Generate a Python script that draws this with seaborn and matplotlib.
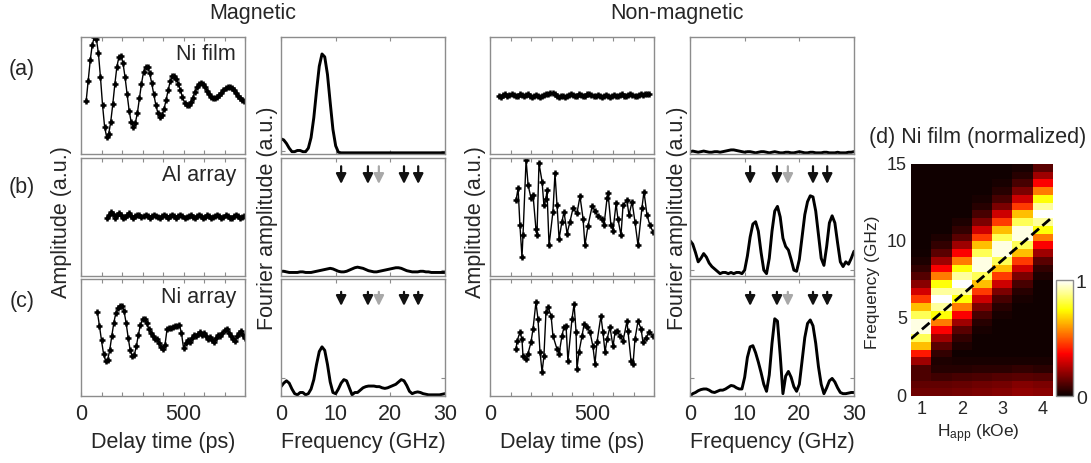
import numpy as np
import pandas as pd
import matplotlib
matplotlib.use("Agg")
import matplotlib.pyplot as plt
import seaborn as sns

sns.set_style("ticks")
plt.rcParams["font.family"] = ["Liberation Sans", "DejaVu Sans"]
plt.rcParams["mathtext.fontset"] = "custom"
plt.rcParams["mathtext.rm"] = "Liberation Sans"
plt.rcParams["mathtext.it"] = "Liberation Sans:italic"

# ---------------- time-domain traces (a.u.) ----------------
t_ni_film = np.arange(25, 800, 10)
v_ni_film = [-0.10, 0.25, 0.60, 0.87, 1.00, 0.97, 0.72, 0.31, -0.16, -0.53,
             -0.71, -0.66, -0.45, -0.15, 0.19, 0.49, 0.66, 0.68, 0.55, 0.31,
             0.02, -0.26, -0.46, -0.53, -0.47, -0.30, -0.05, 0.20, 0.40, 0.49,
             0.48, 0.38, 0.21, 0.02, -0.16, -0.30, -0.36, -0.33, -0.23, -0.08,
             0.09, 0.24, 0.33, 0.34, 0.29, 0.20, 0.09, -0.03, -0.12, -0.17,
             -0.16, -0.11, -0.04, 0.06, 0.14, 0.20, 0.21, 0.19, 0.14, 0.08,
             0.02, -0.03, -0.05, -0.04, -0.02, 0.01, 0.05, 0.09, 0.12, 0.14,
             0.14, 0.12, 0.09, 0.04, 0.00, -0.05, -0.08, -0.10]

t_al_array = np.arange(125, 800, 10)
v_al_array = [-0.02, 0.04, 0.08, 0.05, -0.01, 0.03, 0.07, 0.04, -0.02, 0.00,
              0.04, 0.06, 0.02, -0.02, 0.01, 0.04, 0.03, 0.00, 0.01, 0.03,
              0.02, -0.01, 0.01, 0.03, 0.02, 0.00, -0.01, 0.02, 0.04, 0.01,
              -0.02, 0.01, 0.03, 0.02, -0.01, 0.01, 0.04, 0.02, -0.01, 0.00,
              0.02, 0.03, 0.00, -0.02, 0.01, 0.04, 0.02, -0.01, 0.00, 0.03,
              0.01, -0.02, 0.00, 0.02, 0.04, 0.01, -0.01, 0.00, 0.03, 0.02,
              -0.01, -0.02, 0.01, 0.04, 0.02, -0.01, 0.00, 0.02]

t_ni_array = np.arange(80, 801, 10)
v_ni_array = [0.43, 0.20, -0.05, -0.28, -0.40, -0.38, -0.22, 0.02, 0.25, 0.42,
              0.50, 0.54, 0.54, 0.45, 0.25, 0.00, -0.22, -0.32, -0.30, -0.15,
              0.05, 0.22, 0.31, 0.31, 0.24, 0.15, 0.08, 0.03, -0.02, -0.03,
              -0.10, -0.17, -0.20, -0.12, 0.15, 0.17, 0.16, 0.18, 0.19, 0.20,
              0.21, 0.08, -0.18, -0.10, -0.04, -0.07, 0.00, 0.04, 0.02, 0.06,
              0.09, 0.05, 0.07, 0.02, -0.03, 0.01, -0.05, -0.08, 0.00, 0.04,
              0.02, 0.08, 0.12, 0.15, 0.08, 0.03, -0.03, -0.06, 0.02, 0.08,
              0.11, 0.04, 0.00]

t_nm_film = np.arange(45, 776, 10)
v_nm_film = [0.00, -0.02, 0.01, 0.02, 0.00, 0.01, 0.03, 0.01, -0.01, 0.00,
             0.02, 0.01, -0.01, 0.01, 0.02, 0.00, -0.02, -0.01, 0.01, 0.00,
             -0.02, -0.01, 0.01, 0.02, 0.03, 0.05, 0.04, 0.02, 0.00, -0.02,
             -0.01, 0.00, -0.02, -0.01, 0.01, 0.02, 0.01, -0.01, 0.00, 0.02,
             0.01, -0.01, 0.00, 0.02, 0.03, 0.01, -0.01, 0.00, 0.01, -0.01,
             -0.02, 0.00, 0.01, -0.01, -0.02, 0.00, 0.01, 0.00, -0.01, 0.01,
             0.02, 0.00, -0.01, 0.01, 0.02, 0.01, -0.01, 0.00, 0.01, 0.02,
             0.01, 0.02, 0.03, 0.02]

t_nm_al = [127, 137, 146, 156, 161, 176, 186, 200, 210, 224, 229, 239, 254, 263,
           273, 278, 288, 307, 317, 327, 337, 351, 361, 376, 390, 405, 424, 439,
           454, 463, 478, 498, 512, 527, 546, 556, 571, 576, 590, 600, 615, 624,
           639, 649, 668, 678, 693, 707, 722, 741, 751, 766, 780, 795]
v_nm_al = [0.28, 0.49, -0.14, -0.68, -0.31, 0.97, 0.54, 0.32, 0.37, -0.20,
           -0.31, 0.91, 0.60, 0.20, 0.31, 0.45, -0.48, 0.09, 0.74, 0.20,
           -0.37, -0.08, 0.09, -0.28, -0.08, 0.15, 0.06, 0.35, -0.03, -0.48,
           -0.15, 0.18, 0.11, 0.01, -0.03, -0.14, 0.32, 0.40, -0.14, -0.23,
           0.23, -0.03, -0.31, 0.20, 0.28, 0.03, 0.26, -0.08, -0.48, 0.15,
           0.43, 0.03, -0.14, -0.25]

t_nm_ni = [127, 132, 146, 156, 161, 176, 185, 200, 210, 224, 234, 244, 254, 263,
           273, 283, 298, 307, 327, 337, 351, 361, 371, 380, 400, 410, 420, 424,
           434, 449, 459, 473, 488, 502, 512, 522, 541, 551, 561, 571, 585, 600,
           610, 620, 634, 649, 668, 673, 688, 698, 707, 722, 737, 746, 761, 776, 795]
v_nm_ni = [-0.20, -0.06, 0.09, -0.03, -0.32, -0.37, -0.28, -0.08, 0.15, 0.60,
           0.32, -0.25, -0.59, -0.32, 0.43, 0.52, 0.37, 0.03, -0.20, -0.28,
           0.03, 0.18, 0.20, -0.40, 0.32, 0.57, 0.09, -0.54, -0.25, 0.03,
           0.23, 0.18, 0.09, -0.15, -0.45, -0.08, 0.37, 0.09, -0.25, -0.03,
           0.18, -0.15, 0.09, 0.11, 0.03, -0.06, 0.28, 0.11, -0.40, -0.45,
           -0.03, 0.28, 0.15, -0.08, 0.00, 0.09, 0.03]

# ---------------- Fourier spectra (a.u.), 0-30 GHz in 0.5 GHz steps ----------------
freq = np.arange(0, 30.01, 0.5)
fft_ni_film = [0.13, 0.12, 0.09, 0.05, 0.02, 0.02, 0.03, 0.03, 0.02, 0.02,
               0.05, 0.14, 0.31, 0.54, 0.75, 0.855, 0.83, 0.68, 0.44, 0.21,
               0.07, 0.015, 0.01, 0.01, 0.01, 0.01, 0.01, 0.01, 0.01, 0.01,
               0.01, 0.01, 0.01, 0.01, 0.01, 0.01, 0.01, 0.01, 0.01, 0.01,
               0.01, 0.01, 0.01, 0.01, 0.01, 0.01, 0.01, 0.01, 0.01, 0.01,
               0.01, 0.01, 0.01, 0.01, 0.01, 0.01, 0.01, 0.01, 0.01, 0.01,
               0.01]
fft_al_array = [0.04, 0.04, 0.035, 0.03, 0.03, 0.03, 0.03, 0.035, 0.035, 0.03,
                0.03, 0.03, 0.035, 0.04, 0.045, 0.05, 0.055, 0.06, 0.065, 0.06,
                0.05, 0.04, 0.035, 0.035, 0.04, 0.05, 0.06, 0.07, 0.075, 0.07,
                0.065, 0.055, 0.045, 0.04, 0.035, 0.035, 0.04, 0.045, 0.05, 0.055,
                0.06, 0.065, 0.07, 0.07, 0.065, 0.055, 0.045, 0.04, 0.035, 0.035,
                0.035, 0.04, 0.04, 0.035, 0.035, 0.03, 0.03, 0.03, 0.03, 0.03,
                0.03]
fft_ni_array = [0.08, 0.11, 0.13, 0.11, 0.06, 0.02, 0.01, 0.03, 0.03, 0.01,
                0.02, 0.06, 0.14, 0.27, 0.38, 0.42, 0.39, 0.27, 0.12, 0.03,
                0.02, 0.06, 0.11, 0.14, 0.13, 0.07, 0.01, 0.03, 0.03, 0.05,
                0.07, 0.08, 0.085, 0.085, 0.085, 0.08, 0.08, 0.07, 0.065, 0.07,
                0.08, 0.09, 0.10, 0.12, 0.14, 0.13, 0.09, 0.04, 0.02, 0.03,
                0.035, 0.03, 0.02, 0.015, 0.01, 0.01, 0.01, 0.01, 0.01, 0.015,
                0.02]
fft_nm_film = [0.02, 0.025, 0.02, 0.015, 0.02, 0.025, 0.02, 0.015, 0.015, 0.02,
               0.02, 0.015, 0.02, 0.025, 0.03, 0.035, 0.035, 0.03, 0.025, 0.02,
               0.015, 0.02, 0.02, 0.015, 0.01, 0.015, 0.02, 0.02, 0.015, 0.01,
               0.015, 0.02, 0.015, 0.01, 0.01, 0.015, 0.015, 0.01, 0.01, 0.015,
               0.02, 0.015, 0.01, 0.01, 0.015, 0.015, 0.01, 0.01, 0.01, 0.015,
               0.015, 0.01, 0.01, 0.01, 0.015, 0.01, 0.01, 0.01, 0.015, 0.015,
               0.02]
fft_nm_al = [0.30, 0.27, 0.20, 0.12, 0.15, 0.19, 0.16, 0.11, 0.08, 0.06,
             0.04, 0.02, 0.03, 0.03, 0.02, 0.03, 0.02, 0.03, 0.03, 0.02,
             0.05, 0.17, 0.33, 0.44, 0.46, 0.38, 0.20, 0.05, 0.02, 0.15,
             0.38, 0.55, 0.59, 0.50, 0.32, 0.25, 0.22, 0.14, 0.05, 0.04,
             0.14, 0.33, 0.52, 0.63, 0.68, 0.67, 0.55, 0.35, 0.15, 0.09,
             0.25, 0.45, 0.51, 0.45, 0.28, 0.12, 0.08, 0.12, 0.10, 0.15,
             0.21]
fft_nm_ni = [0.00, 0.02, 0.03, 0.045, 0.055, 0.06, 0.06, 0.05, 0.035, 0.03,
             0.04, 0.05, 0.05, 0.06, 0.075, 0.09, 0.085, 0.07, 0.06, 0.06,
             0.16, 0.33, 0.42, 0.43, 0.37, 0.29, 0.20, 0.10, 0.04, 0.18,
             0.45, 0.66, 0.64, 0.35, 0.02, 0.17, 0.21, 0.16, 0.08, 0.04,
             0.10, 0.30, 0.50, 0.62, 0.65, 0.60, 0.45, 0.25, 0.10, 0.02,
             0.07, 0.13, 0.15, 0.12, 0.07, 0.03, 0.02, 0.02, 0.025, 0.03,
             0.03]

# calculated mode frequencies marked by arrows (GHz); the grey one is separate
arrow_freqs = [11.0, 15.9, 17.9, 22.5, 25.1]
arrow_colors = ["#111111", "#111111", "#a8a8a8", "#111111", "#111111"]

# ---------------- field dependence of the Ni film spectrum ----------------
h_fields = [1.0, 1.5, 2.0, 2.5, 3.0, 3.5, 4.0]          # kOe
freq_bins = np.arange(0.25, 15.0, 0.5)                    # GHz (bin centres)
heat_cols = [
    [0.15, 0.13, 0.10, 0.10, 0.22, 0.40, 0.65, 0.83, 0.97, 0.97,
     0.83, 0.65, 0.45, 0.30, 0.19, 0.11, 0.06, 0.03, 0.015, 0.01,
     0.01, 0.01, 0.01, 0.01, 0.01, 0.01, 0.01, 0.01, 0.01, 0.01],
    [0.15, 0.13, 0.08, 0.04, 0.03, 0.06, 0.12, 0.22, 0.36, 0.55,
     0.75, 0.90, 1.00, 0.90, 0.75, 0.55, 0.36, 0.22, 0.12, 0.06,
     0.03, 0.01, 0.01, 0.01, 0.01, 0.01, 0.01, 0.01, 0.01, 0.01],
    [0.16, 0.14, 0.09, 0.04, 0.02, 0.01, 0.03, 0.06, 0.12, 0.22,
     0.36, 0.55, 0.75, 0.90, 1.00, 0.90, 0.75, 0.55, 0.36, 0.22,
     0.12, 0.06, 0.03, 0.01, 0.01, 0.01, 0.01, 0.01, 0.01, 0.01],
    [0.17, 0.15, 0.10, 0.05, 0.02, 0.01, 0.01, 0.01, 0.02, 0.045,
     0.09, 0.17, 0.29, 0.45, 0.65, 0.83, 0.97, 0.97, 0.83, 0.65,
     0.45, 0.29, 0.17, 0.09, 0.045, 0.02, 0.01, 0.01, 0.01, 0.01],
    [0.18, 0.16, 0.11, 0.05, 0.02, 0.01, 0.01, 0.01, 0.01, 0.01,
     0.02, 0.045, 0.09, 0.17, 0.29, 0.45, 0.65, 0.83, 0.97, 0.97,
     0.83, 0.65, 0.45, 0.29, 0.17, 0.09, 0.045, 0.02, 0.01, 0.01],
    [0.20, 0.18, 0.12, 0.06, 0.02, 0.01, 0.01, 0.01, 0.01, 0.01,
     0.01, 0.01, 0.02, 0.045, 0.09, 0.17, 0.29, 0.45, 0.65, 0.83,
     0.97, 0.97, 0.83, 0.65, 0.45, 0.29, 0.17, 0.09, 0.045, 0.02],
    [0.19, 0.17, 0.11, 0.05, 0.02, 0.01, 0.01, 0.01, 0.01, 0.01,
     0.01, 0.01, 0.01, 0.01, 0.01, 0.03, 0.06, 0.12, 0.22, 0.36,
     0.55, 0.75, 0.90, 1.00, 0.90, 0.75, 0.55, 0.36, 0.22, 0.12],
]
fit_h = [0.75, 4.25]     # kOe
fit_f = [3.7, 11.6]      # GHz

# ---------------- figure ----------------
W, H = 1091, 464
fig = plt.figure(figsize=(W / 100, H / 100), dpi=100)
FS = 15.5
FRAME = "#8c8c8c"


def px_axes(x0, y0, x1, y1):
    return fig.add_axes([x0 / W, 1 - y1 / H, (x1 - x0) / W, (y1 - y0) / H])


def px_text(x, y, s, **kw):
    fig.text(x / W, 1 - y / H, s, **kw)


def frame(ax):
    for s in ax.spines.values():
        s.set_color(FRAME)
        s.set_linewidth(1.0)
    ax.tick_params(direction="in", length=3, width=0.8, color=FRAME,
                   top=True, right=True, labelsize=FS, pad=5)


col_x = [(81, 245), (281, 445), (490, 654), (690, 854)]
row_y = [(38, 155), (159, 277), (280, 397)]

time_data = {0: [(t_ni_film, v_ni_film), (t_al_array, v_al_array), (t_ni_array, v_ni_array)],
             2: [(t_nm_film, v_nm_film), (t_nm_al, v_nm_al), (t_nm_ni, v_nm_ni)]}
fft_data = {1: [fft_ni_film, fft_al_array, fft_ni_array],
            3: [fft_nm_film, fft_nm_al, fft_nm_ni]}
fft_ytick = [0.025, 0.05, 0.155]

for c, (x0, x1) in enumerate(col_x):
    for r, (y0, y1) in enumerate(row_y):
        ax = px_axes(x0, y0, x1, y1)
        frame(ax)
        last = r == 2
        if c in time_data:
            t, v = time_data[c][r]
            sns.lineplot(x=t, y=v, ax=ax, color="black", lw=1.0, marker="+",
                         markersize=5, markeredgewidth=1.8, markeredgecolor="black")
            ax.set_xlim(0, 800)
            ax.set_ylim(-1, 1)
            ax.set_xticks(range(0, 801, 100))
            ax.set_xticklabels(["0", "", "", "", "", "500", "", "", ""])
            ax.set_yticks([])
        else:
            sns.lineplot(x=freq, y=fft_data[c][r], ax=ax, color="black", lw=2.1)
            ax.set_xlim(0, 30)
            ax.set_ylim(0, 1)
            ax.set_xticks([0, 10, 20, 30])
            ax.set_yticks([fft_ytick[r]])
            ax.set_yticklabels([])
            if r > 0:
                top, tip = (0.93, 0.78) if r == 1 else (0.89, 0.77)
                for f, col in zip(arrow_freqs, arrow_colors):
                    ax.annotate("", xy=(f, tip), xytext=(f, top),
                                xycoords=("data", "axes fraction"),
                                textcoords=("data", "axes fraction"),
                                arrowprops=dict(arrowstyle="-|>,head_width=0.3,head_length=0.6",
                                                color=col, lw=1.6, shrinkA=0, shrinkB=0))
        ax.set_xlabel("")
        ax.set_ylabel("")
        ax.tick_params(labelbottom=last)

# sample names inside the magnetic time traces
px_text(236, 55, "Ni film", ha="right", va="center", fontsize=FS)
px_text(236, 176, "Al array", ha="right", va="center", fontsize=FS)
px_text(236, 298, "Ni array", ha="right", va="center", fontsize=FS)

# column headings, row tags and shared axis labels
px_text(253, 14, "Magnetic", ha="center", va="center", fontsize=FS)
px_text(677, 14, "Non-magnetic", ha="center", va="center", fontsize=FS)
for tag, y in zip(["(a)", "(b)", "(c)"], [70, 188, 302]):
    px_text(22, y, tag, ha="center", va="center", fontsize=FS)
px_text(61, 222, "Amplitude (a.u.)", rotation=90, ha="center", va="center", fontsize=FS)
px_text(476, 222, "Amplitude (a.u.)", rotation=90, ha="center", va="center", fontsize=FS)
px_text(267, 218, "Fourier amplitude (a.u.)", rotation=90, ha="center", va="center", fontsize=FS)
px_text(678, 218, "Fourier amplitude (a.u.)", rotation=90, ha="center", va="center", fontsize=FS)
px_text(163, 443, "Delay time (ps)", ha="center", va="center", fontsize=FS)
px_text(572, 443, "Delay time (ps)", ha="center", va="center", fontsize=FS)
px_text(363, 443, "Frequency (GHz)", ha="center", va="center", fontsize=FS)
px_text(772, 443, "Frequency (GHz)", ha="center", va="center", fontsize=FS)

# ---------------- (d) heat map ----------------
axd = px_axes(911, 165, 1053, 397)
cax = px_axes(1056, 281, 1073, 397)
hm = pd.DataFrame(np.array(heat_cols).T, index=freq_bins, columns=h_fields)
sns.heatmap(hm, ax=axd, cmap="hot", vmin=0, vmax=1, cbar_ax=cax,
            cbar_kws={"ticks": [0, 1]})
axd.invert_yaxis()
dh = h_fields[1] - h_fields[0]
df = freq_bins[1] - freq_bins[0]


def h_to_cell(h):
    return (np.asarray(h) - h_fields[0]) / dh + 0.5


def f_to_cell(f):
    return (np.asarray(f) - (freq_bins[0] - df / 2)) / df


axd.plot(h_to_cell(fit_h), f_to_cell(fit_f), color="black", lw=2.0, dashes=(3.6, 1.6))
axd.set_xticks(h_to_cell([1, 2, 3, 4]))
axd.set_xticklabels(["1", "2", "3", "4"], rotation=0)
axd.set_yticks(f_to_cell([0, 5, 10, 15]))
axd.set_yticklabels(["0", "5", "10", "15"], rotation=0)
axd.tick_params(length=0, labelsize=13, pad=3)
axd.set_xlabel("")
axd.set_ylabel("")
cax.tick_params(length=0, labelsize=14, pad=2)
cbar = axd.collections[0].colorbar
cbar.outline.set_edgecolor(FRAME)
cbar.outline.set_linewidth(1.0)

px_text(978, 138, "(d) Ni film (normalized)", ha="center", va="center", fontsize=FS)
px_text(873, 282, "Frequency (GHz)", rotation=90, ha="center", va="center", fontsize=12.5)
px_text(978, 434, r"H$_{\mathrm{app}}$ (kOe)", ha="center", va="center", fontsize=12.5)

fig.savefig("out.png", dpi=100)
